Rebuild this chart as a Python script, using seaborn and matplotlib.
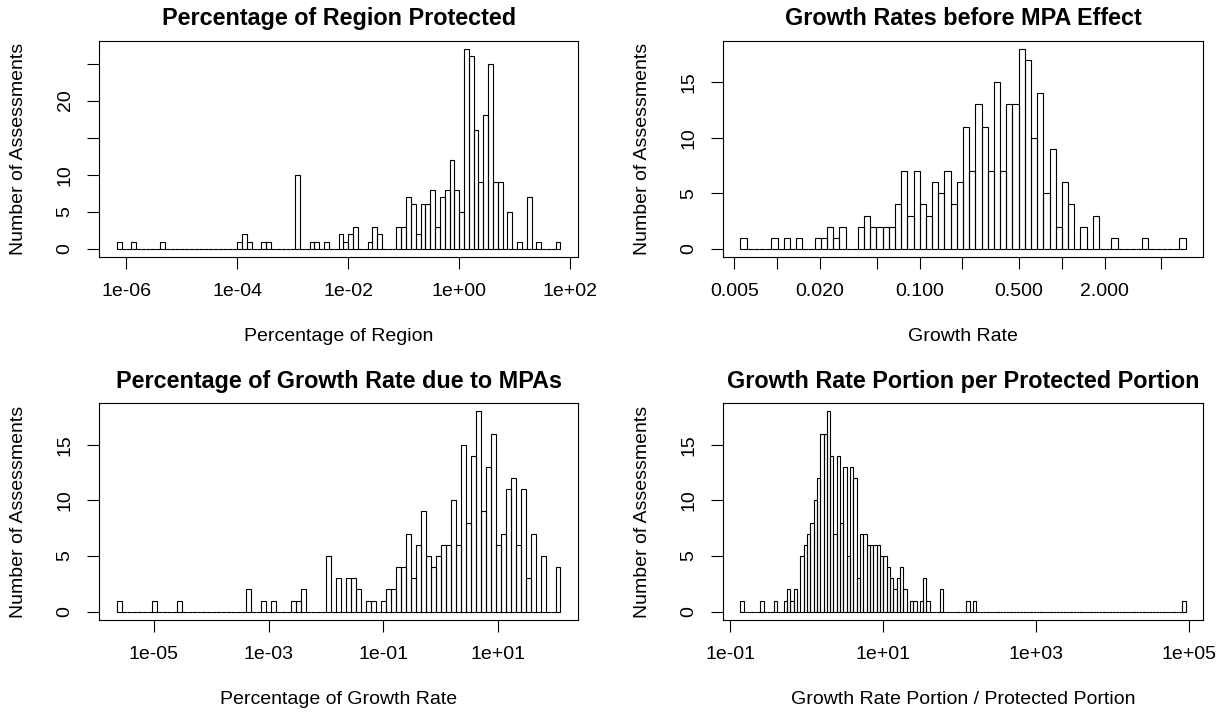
import numpy as np
import pandas as pd
import seaborn as sns
import matplotlib.pyplot as plt
from matplotlib.ticker import NullLocator

# histogram bins: index k = left edge / width, in natural-log units
region_width = 0.2
region_bin = [-71, -68, -62, -46, -45, -44, -41, -40, -34, -31, -30, -28,
              -25, -24, -23, -22, -19, -18, -17,
              -13, -12, -11, -10, -9, -8, -7, -6, -5, -4, -3, -2, -1, 0,
              1, 2, 3, 4, 5, 6, 7, 8, 10, 12, 14, 16, 20]
region_n = [1, 1, 1, 1, 2, 1, 1, 1, 10, 1, 1, 1,
            2, 1, 2, 3, 1, 3, 2,
            3, 3, 7, 6, 2, 6, 6, 8, 3, 7, 8, 12, 8, 5,
            27, 26, 16, 9, 18, 25, 9, 9, 5, 1, 7, 1, 1]

growth_width = 0.1
growth_bin = [-52, -47, -45, -43, -40, -39, -38, -37, -36,
              -33, -32, -31, -30, -29, -28, -27, -26, -25, -24, -23, -22, -21, -20,
              -19, -18, -17, -16, -15, -14, -13, -12, -11, -10, -9, -8, -7, -6,
              -5, -4, -3, -2, -1, 0, 1, 3, 5, 8, 13, 19]
growth_n = [1, 1, 1, 1, 1, 1, 2, 1, 2,
            2, 3, 2, 2, 2, 2, 4, 7, 3, 7, 4, 3, 6, 5,
            7, 4, 6, 11, 7, 13, 11, 7, 15, 7, 13, 13, 18, 17,
            10, 14, 5, 9, 2, 6, 4, 2, 3, 1, 1, 1]

mpa_width = 0.2
mpa_bin = [-65, -58, -53, -39, -36, -34, -30, -29, -28, -23, -21, -19, -18, -17,
           -15, -14, -12, -11, -10,
           -9, -8, -7, -6, -5, -4, -3, -2, -1, 0, 1, 2, 3, 4, 5,
           6, 7, 8, 9, 10, 11, 12, 13, 14, 15, 16, 17, 18, 20, 23]
mpa_n = [1, 1, 1, 2, 1, 1, 1, 1, 2, 5, 3, 3, 3, 2,
         1, 1, 1, 2, 2,
         4, 4, 7, 3, 6, 9, 5, 4, 5, 6, 6, 10, 6, 15, 8,
         14, 18, 9, 13, 16, 6, 7, 11, 12, 6, 11, 3, 7, 5, 4]

ratio_width = 0.1
ratio_bin = [-20, -14, -10, -7, -6, -5, -4, -2, -1, 0, 1, 2, 3, 4, 5, 6, 7, 8,
             9, 10, 11, 12, 13, 14, 15, 16, 17, 18, 19, 20, 21, 22, 23, 24, 25,
             26, 27, 28, 29, 31, 32, 34, 35, 36, 40, 48, 50, 113]
ratio_n = [1, 1, 1, 1, 2, 1, 2, 5, 6, 7, 8, 10, 12, 16, 16, 18, 14, 7,
           14, 8, 13, 5, 13, 12, 3, 7, 7, 6, 6, 6, 6, 5, 5, 4, 3,
           2, 3, 4, 2, 1, 1, 1, 3, 1, 2, 1, 1, 1]

titles = ["Percentage of Region Protected", "Growth Rates before MPA Effect",
          "Percentage of Growth Rate due to MPAs", "Growth Rate Portion per Protected Portion"]
xlabels = ["Percentage of Region", "Growth Rate",
           "Percentage of Growth Rate", "Growth Rate Portion / Protected Portion"]
xticks = [[1e-6, 1e-4, 1e-2, 1e0, 1e2],
          [0.005, 0.01, 0.02, 0.05, 0.1, 0.2, 0.5, 1, 2, 5],
          [1e-5, 1e-3, 1e-1, 1e1],
          [1e-1, 1e1, 1e3, 1e5]]
xticklabels = [["1e-06", "1e-04", "1e-02", "1e+00", "1e+02"],
               ["0.005", "", "0.020", "", "0.100", "", "0.500", "", "2.000", ""],
               ["1e-05", "1e-03", "1e-01", "1e+01"],
               ["1e-01", "1e+01", "1e+03", "1e+05"]]
yticks = [[0, 5, 10, 15, 20, 25], [0, 5, 10, 15], [0, 5, 10, 15], [0, 5, 10, 15]]
yticklabels = [["0", "5", "10", "", "20", ""], ["0", "5", "10", "15"],
               ["0", "5", "10", "15"], ["0", "5", "10", "15"]]

sns.set_style("white")
plt.rcParams['font.family'] = ['Liberation Sans', 'DejaVu Sans']
plt.rcParams['axes.linewidth'] = 0.8
for k in ['text.color', 'axes.labelcolor', 'xtick.color', 'ytick.color', 'axes.edgecolor']:
    plt.rcParams[k] = 'black'

W, H = 1222, 715
fig = plt.figure(figsize=(W / 100, H / 100), dpi=100)
pos = [[0.081, 0.6406, 0.3922, 0.3025], [0.5914, 0.6406, 0.3933, 0.3025],
       [0.081, 0.1333, 0.3922, 0.3027], [0.5914, 0.1333, 0.3933, 0.3027]]
panels = [(region_bin, region_n, region_width), (growth_bin, growth_n, growth_width),
          (mpa_bin, mpa_n, mpa_width), (ratio_bin, ratio_n, ratio_width)]

for i, (b, n, w) in enumerate(panels):
    ax = fig.add_axes(pos[i])
    b = np.asarray(b)
    # one observation per assessment, placed at its bin centre
    df = pd.DataFrame({'x': np.repeat(np.exp((b + 0.5) * w), n)})
    edges = np.arange(b.min(), b.max() + 2) * w / np.log(10)
    sns.histplot(data=df, x='x', bins=edges, log_scale=True, ax=ax,
                 fill=False, color='black', linewidth=0.8)
    # R style 4% axis expansion
    span = edges[-1] - edges[0]
    ax.set_xlim(10 ** (edges[0] - 0.04 * span), 10 ** (edges[-1] + 0.04 * span))
    top = max(n)
    ax.set_ylim(-0.04 * top, 1.04 * top)
    ax.xaxis.set_minor_locator(NullLocator())
    ax.set_xticks(xticks[i])
    ax.set_xticklabels(xticklabels[i])
    ax.set_yticks(yticks[i])
    ax.set_yticklabels(yticklabels[i], rotation=90, va='center')
    ax.tick_params(axis='both', direction='out', length=8.4, width=0.8, labelsize=14,
                   color='black', bottom=True, left=True)
    ax.tick_params(axis='x', pad=10.3)
    ax.tick_params(axis='y', pad=9.8)
    for s in ax.spines.values():
        s.set_color('black')
        s.set_visible(True)
    ax.set_title(titles[i], fontsize=16.8, fontweight='bold', pad=11)
    ax.set_xlabel(xlabels[i], fontsize=14, va='center')
    ax.set_ylabel("Number of Assessments", fontsize=14, va='center')
    ax.xaxis.set_label_coords(0.5, -80 / (pos[i][3] * H))
    ax.yaxis.set_label_coords(-80.5 / (pos[i][2] * W), 0.5)

fig.savefig('out.png', dpi=100)
